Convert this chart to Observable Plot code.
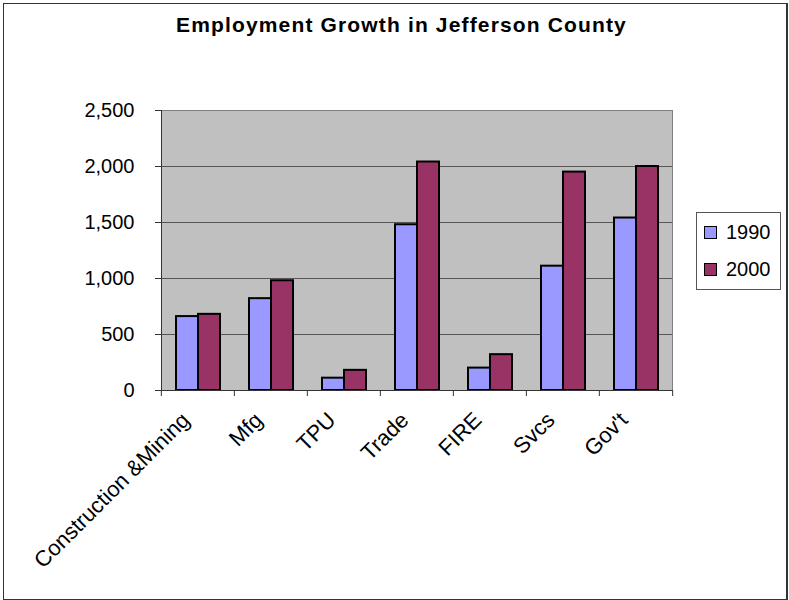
<!DOCTYPE html>
<html>
<head>
<meta charset="utf-8">
<script src="https://cdn.jsdelivr.net/npm/d3@7"></script>
<script src="https://cdn.jsdelivr.net/npm/@observablehq/plot@0.6"></script>
<style>
  body { margin: 0; background: #fff; }
  #root { position: relative; width: 789px; height: 600px; overflow: hidden; font-family: "Liberation Sans", Arial, sans-serif; background: #fff; }
  #border { position: absolute; left: 3px; top: 3px; width: 785px; height: 597px; box-sizing: border-box; border: 1px solid #333; border-right-width: 2px; pointer-events: none; }
  #title { position: absolute; left: 7px; top: 14px; width: 789px; text-align: center; font-weight: bold; font-size: 21px; line-height: 21px; letter-spacing: 1.15px; color: #000; }
  #chart { position: absolute; left: 0; top: 40px; }
  #legend { position: absolute; left: 696px; top: 212px; width: 85px; height: 78px; box-sizing: border-box; border: 1px solid #555; background: #fff; }
  .item { position: absolute; left: 7px; height: 22px; display: flex; align-items: center; font-size: 20px; line-height: 22px; color: #000; }
  .sw { width: 11px; height: 11px; border: 1px solid #000; margin-right: 9px; }
</style>
</head>
<body>
<div id="root">
  <div id="title">Employment Growth in Jefferson County</div>
  <div id="chart"></div>
  <div id="legend"></div>
  <div id="border"></div>
</div>
<script>
const categories = ["Construction &Mining", "Mfg", "TPU", "Trade", "FIRE", "Svcs", "Gov't"];
const series = ["1990", "2000"];
const values1990 = [660, 820, 110, 1480, 200, 1110, 1540];
const values2000 = [680, 980, 180, 2040, 320, 1950, 2000];
const colors = ["#9999FF", "#993366"];
const yTicks = [0, 500, 1000, 1500, 2000, 2500];
const gridTicks = [500, 1000, 1500, 2000];

const data = categories.flatMap((c, i) => [
  {category: c, series: series[0], value: values1990[i]},
  {category: c, series: series[1], value: values2000[i]}
]);

const W = 789, H = 560, mL = 160, mR = 116, mT = 70, mB = 210;
const step = (W - mL - mR) / categories.length;

const chart = Plot.plot({
  width: W, height: H,
  marginTop: mT, marginRight: mR, marginBottom: mB, marginLeft: mL,
  style: {fontFamily: '"Liberation Sans", Arial, sans-serif', fontSize: "20px", color: "#000", background: "transparent", overflow: "visible"},
  fx: {domain: categories, padding: 0, label: null, axis: null},
  x: {domain: series, paddingInner: 0, paddingOuter: 0.64, axis: null},
  y: {domain: [0, 2500], axis: null},
  color: {domain: series, range: colors},
  marks: [
    Plot.frame({fill: "#c0c0c0", stroke: "#808080", facet: "super"}),
    Plot.ruleY(gridTicks, {stroke: "#555"}),
    Plot.barY(data, {fx: "category", x: "series", y: "value", fill: "series", stroke: "#000", strokeWidth: 2}),
    Plot.ruleY([0], {stroke: "#333"}),
    Plot.frame({anchor: "left", stroke: "#333", facet: "super"}),
    Plot.axisY({ticks: yTicks, tickFormat: d3.format(","), tickSize: 6, tickPadding: 21, stroke: "#333", label: null, fontSize: 20}),
    Plot.axisFx({anchor: "bottom", tickSize: 0, tickRotate: -45, tickPadding: 26, dx: -12, label: null, fontSize: 22}),
    Plot.axisFx({anchor: "bottom", tickSize: 6, tickFormat: null, dx: -step / 2, stroke: "#333", label: null}),
    Plot.axisFx({anchor: "bottom", ticks: [categories[categories.length - 1]], tickSize: 6, tickFormat: null, dx: step / 2, stroke: "#333", label: null})
  ]
});
document.getElementById("chart").appendChild(chart);

const legend = document.getElementById("legend");
series.forEach((s, i) => {
  const item = document.createElement("div");
  item.className = "item";
  item.style.top = (8 + i * 37) + "px";
  const sw = document.createElement("div");
  sw.className = "sw";
  sw.style.background = colors[i];
  item.appendChild(sw);
  const t = document.createElement("span");
  t.textContent = s;
  item.appendChild(t);
  legend.appendChild(item);
});
</script>
</body>
</html>
